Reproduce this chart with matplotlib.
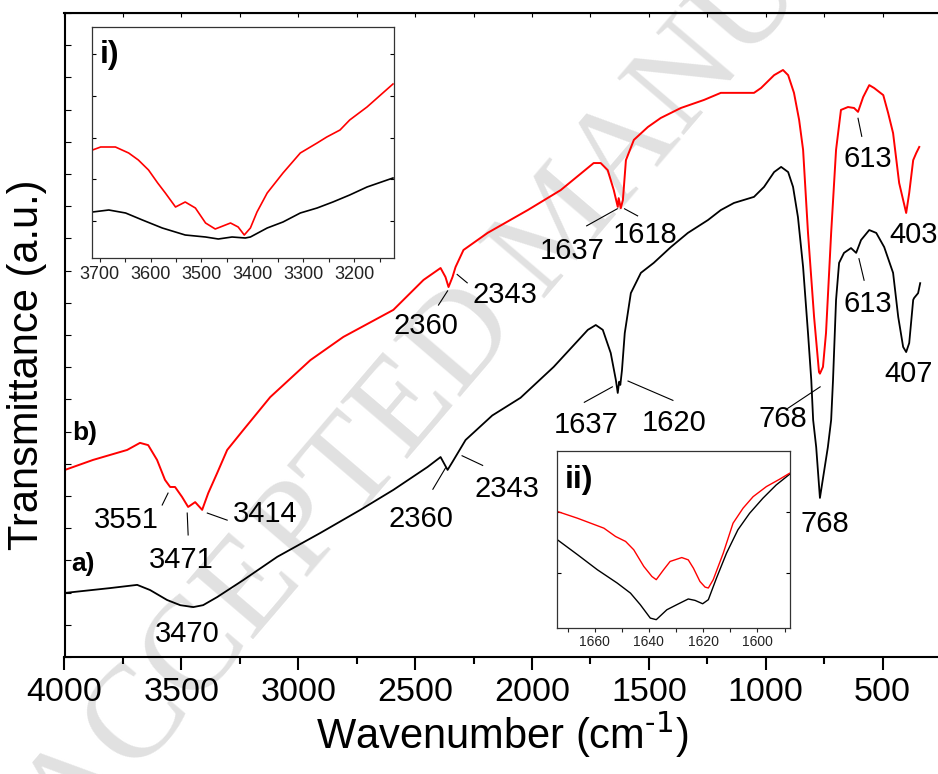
import matplotlib
matplotlib.use('Agg')
import matplotlib.pyplot as plt
from matplotlib.ticker import MultipleLocator, NullFormatter

plt.rcParams['font.family'] = ['Liberation Sans', 'DejaVu Sans']
plt.rcParams['mathtext.default'] = 'regular'

# spectrum a) (black)
wn_a = [3998, 3805, 3689, 3634, 3561, 3505, 3449, 3407, 3347, 3235, 3090, 2906,
        2734, 2593, 2447, 2391, 2361, 2340, 2284, 2170, 2049, 1907, 1761, 1727,
        1697, 1663, 1641, 1633, 1627, 1622, 1615, 1603, 1577, 1534, 1479, 1406,
        1333, 1247, 1192, 1136, 1050, 1007, 964, 934, 904, 883, 862, 840, 819,
        805, 797, 784, 768, 734, 720, 712, 699, 686, 665, 635, 613, 592, 557,
        527, 493, 455, 433, 412, 399, 386, 369, 365, 348, 339]
t_a = [1.99, 2.14, 2.24, 2.08, 1.77, 1.61, 1.55, 1.61, 1.86, 2.39, 3.11, 3.85,
       4.57, 5.19, 5.90, 6.21, 5.81, 6.06, 6.74, 7.50, 8.05, 9.01, 10.16, 10.31,
       10.16, 9.44, 8.60, 8.20, 8.55, 8.45, 8.90, 10.06, 11.30, 11.93, 12.24, 12.73,
       13.17, 13.57, 13.88, 14.10, 14.29, 14.60, 15.06, 15.22, 15.06, 14.60, 13.66, 12.11, 10.06,
       8.60, 7.36, 6.52, 4.94, 6.52, 7.36, 8.60, 11.09, 12.24, 12.55, 12.70, 12.55, 12.95, 13.26,
       13.17, 12.73, 11.93, 10.56, 9.63, 9.47, 9.75, 11.09, 11.15, 11.30, 11.61]

# spectrum b) (red)
wn_b = [3998, 3878, 3732, 3677, 3642, 3604, 3570, 3548, 3527, 3497, 3471, 3441,
        3411, 3385, 3347, 3304, 3235, 3120, 2948, 2807, 2593, 2464, 2391, 2370,
        2357, 2340, 2327, 2293, 2190, 2018, 1877, 1736, 1706, 1676, 1650, 1633,
        1629, 1620, 1611, 1598, 1564, 1504, 1449, 1363, 1264, 1192, 1119, 1050,
        1020, 964, 926, 904, 879, 857, 840, 819, 793, 772, 768, 755, 742, 720,
        699, 678, 648, 622, 605, 583, 557, 536, 497, 476, 455, 429, 399, 386,
        369, 356, 343]
t_b = [5.81, 6.12, 6.43, 6.65, 6.58, 6.12, 5.50, 5.28, 5.28, 4.97, 4.66, 4.81,
       4.57, 5.09, 5.71, 6.43, 7.05, 8.07, 9.22, 9.94, 10.78, 11.71, 12.08, 11.80,
       11.49, 11.80, 12.11, 12.64, 13.17, 13.88, 14.50, 15.34, 15.34, 15.12, 14.50, 13.98,
       14.25, 13.94, 14.19, 15.43, 16.06, 16.46, 16.74, 17.05, 17.30, 17.52, 17.52, 17.52,
       17.67, 18.07, 18.23, 18.07, 17.52, 16.68, 15.75, 13.17, 10.56, 8.85, 8.80, 9.01, 10.06, 13.17,
       15.75, 16.99, 17.08, 17.05, 16.93, 17.39, 17.76, 17.67, 17.45, 16.89, 16.27, 14.72, 13.79, 14.41,
       15.43, 15.65, 15.84]

# inset i) 3700-3100 region
wn_i_b = [3714, 3698, 3669, 3643, 3624, 3604, 3586, 3571, 3551, 3532, 3512, 3492,
          3473, 3443, 3428, 3416, 3404, 3391, 3371, 3340, 3306, 3273, 3254, 3228,
          3209, 3175, 3144, 3124]
t_i_b = [10.8, 11.1, 11.1, 10.5, 9.8, 8.8, 7.5, 6.5, 5.1, 5.6, 5.0, 3.5,
         2.9, 3.5, 3.1, 2.3, 3.0, 4.6, 6.5, 8.5, 10.5, 11.5, 12.1, 12.8,
         13.8, 15.1, 16.5, 17.4]
wn_i_a = [3714, 3682, 3649, 3616, 3577, 3532, 3492, 3467, 3440, 3414, 3404, 3371,
          3340, 3306, 3273, 3242, 3209, 3175, 3124]
t_i_a = [4.6, 4.8, 4.5, 3.8, 3.0, 2.3, 2.1, 1.9, 2.1, 2.0, 2.1, 3.0,
         3.6, 4.5, 5.0, 5.6, 6.3, 7.1, 8.0]

# inset ii) 1670-1590 region
wn_ii_b = [1673.7, 1666.3, 1656.6, 1652.3, 1648.6, 1645.6, 1641.9, 1638.9, 1637.3,
           1634.6, 1632.2, 1627.9, 1625.5, 1623.6, 1621.2, 1619.3, 1618.1, 1616.3,
           1612.6, 1609.0, 1605.3, 1601.6, 1596.7, 1591.9, 1588.2]
t_ii_b = [6.58, 6.20, 5.64, 5.17, 4.89, 4.42, 3.48, 2.91, 2.73,
          3.29, 3.76, 3.98, 3.85, 3.38, 2.63, 2.31, 2.26, 2.73,
          4.23, 5.92, 6.77, 7.42, 7.99, 8.40, 8.74]
wn_ii_a = [1673.7, 1666.3, 1659.0, 1651.7, 1646.8, 1643.2, 1639.5, 1637.3, 1633.4,
           1629.7, 1625.5, 1623.0, 1620.2, 1618.1, 1615.1, 1611.4, 1607.2, 1602.9,
           1598.0, 1593.1, 1588.2]
t_ii_a = [4.98, 4.14, 3.29, 2.54, 1.97, 1.32, 0.56, 0.47, 1.03,
          1.32, 1.64, 1.56, 1.37, 1.60, 2.82, 4.23, 5.55, 6.48,
          7.33, 8.08, 8.68]

# peak labels: text, x, y (baseline), and leader line ends
labels = [
    ('3551', 3736, 4.00, (3582, 3557), (4.72, 5.09)),
    ('3471', 3502, 2.75, (3475, 3471), (4.47, 3.79)),
    ('3414', 3143, 4.19, (3389, 3304), (4.47, 4.25)),
    ('3470', 3476, 0.475, None, None),
    ('2360', 2452, 10.04, (2400, 2361), (10.93, 11.37)),
    ('2343', 2117, 10.99, (2320, 2277), (11.88, 11.62)),
    ('1637', 1830, 12.37, (1766, 1635), (13.39, 13.92)),
    ('1618', 1517, 12.87, (1604, 1548), (13.92, 13.70)),
    ('613', 561, 15.22, (605, 589), (16.73, 16.17)),
    ('403', 369, 12.86, None, None),
    ('613', 562, 10.72, (601, 579), (12.37, 11.70)),
    ('407', 388, 8.54, None, None),
    ('768', 928, 7.15, (906, 767), (7.72, 8.39)),
    ('768', 745, 3.89, None, None),
    ('1637', 1770, 6.97, (1776, 1656), (7.91, 8.39)),
    ('1620', 1392, 7.01, (1589, 1397), (8.57, 7.97)),
    ('2360', 2475, 4.04, (2424, 2370), (5.21, 5.87)),
    ('2343', 2107, 4.98, (2299, 2211), (6.25, 5.95)),
]

fig = plt.figure(figsize=(9.38, 7.74), dpi=100)

fig.text(562 / 938, 1 - 228 / 774, 'ACCEPTED MANUSCRIPT', rotation=49.5,
         rotation_mode='anchor', ha='center', va='center', fontsize=96,
         family='Liberation Serif', color='#e1e1e1', zorder=-1)

ax = fig.add_axes([64.5 / 938, 1 - 657 / 774, (941 - 64.5) / 938, (657 - 13) / 774])
ax.patch.set_visible(False)
ax.plot(wn_a, t_a, color='black', lw=1.3)
ax.plot(wn_b, t_b, color='red', lw=1.4)
ax.set_xlim(4000, 250)
ax.set_ylim(0, 20.0)

for s, x, y, lx, ly in labels:
    ax.text(x, y, s, fontsize=21, ha='center', va='baseline')
    if lx is not None:
        ax.plot(lx, ly, color='black', lw=0.8)

ax.text(3969, 6.74, 'b)', fontsize=19, fontweight='bold', ha='left', va='baseline')
ax.text(3972, 2.68, 'a)', fontsize=19, fontweight='bold', ha='left', va='baseline')

for sp in ax.spines.values():
    sp.set_linewidth(1.5)
ax.xaxis.set_major_locator(MultipleLocator(500))
ax.xaxis.set_minor_locator(MultipleLocator(250))
ax.tick_params(axis='x', which='major', direction='out', length=9.5, width=1.5,
               labelsize=24.5, pad=5)
ax.tick_params(axis='x', which='minor', direction='out', length=5, width=1.5)
ax.yaxis.set_major_locator(MultipleLocator(1))
ax.yaxis.set_major_formatter(NullFormatter())
ax.tick_params(axis='y', direction='in', length=4, width=0.8)

top = ax.secondary_xaxis('top')
top.xaxis.set_major_locator(MultipleLocator(250))
top.tick_params(direction='in', length=3, width=0.8, labeltop=False)

fig.text(502 / 938, 1 - 749 / 774, r'Wavenumber (cm$^{\text{-1}}$)', fontsize=30,
         ha='center', va='baseline')
fig.text(27 / 938, 1 - 365 / 774, 'Transmittance (a.u.)', fontsize=30,
         rotation=90, ha='center', va='center')

# inset i)
a1 = fig.add_axes([92 / 938, 1 - 258 / 774, 302 / 938, 231 / 774])
a1.plot(wn_i_a, t_i_a, color='black', lw=1.2)
a1.plot(wn_i_b, t_i_b, color='red', lw=1.2)
a1.set_xlim(3715, 3122)
a1.set_ylim(0, 23.1)
a1.xaxis.set_major_locator(MultipleLocator(100))
a1.xaxis.set_minor_locator(MultipleLocator(50))
a1.set_yticks([3.7, 7.9, 12.0, 16.2, 20.4])
a1.yaxis.set_major_formatter(NullFormatter())
a1.tick_params(axis='x', which='both', direction='out', length=3, width=0.8,
               labelsize=13, pad=3, colors='#222222')
a1.tick_params(axis='y', direction='in', length=3, width=0.8, right=True)
for sp in a1.spines.values():
    sp.set_linewidth(0.9)
    sp.set_color('#333333')
a1.text(0.026, 0.843, 'i)', transform=a1.transAxes, fontsize=23,
        fontweight='bold', ha='left', va='baseline')

# inset ii)
a2 = fig.add_axes([556.7 / 938, 1 - 628 / 774, 233.3 / 938, 177 / 774])
a2.plot(wn_ii_a, t_ii_a, color='black', lw=1.0)
a2.plot(wn_ii_b, t_ii_b, color='red', lw=1.0)
a2.set_xlim(1674, 1588)
a2.set_ylim(0, 10)
a2.xaxis.set_major_locator(MultipleLocator(20))
a2.xaxis.set_minor_locator(MultipleLocator(10))
a2.set_yticks([3.10, 6.54])
a2.yaxis.set_major_formatter(NullFormatter())
a2.tick_params(axis='x', which='both', direction='out', length=3, width=0.8,
               labelsize=10, pad=2, colors='#222222')
a2.tick_params(axis='y', direction='in', length=3, width=0.8, right=True)
for sp in a2.spines.values():
    sp.set_linewidth(0.9)
    sp.set_color('#333333')
a2.text(0.036, 0.789, 'ii)', transform=a2.transAxes, fontsize=23,
        fontweight='bold', ha='left', va='baseline')

fig.savefig('out.png', dpi=100)
